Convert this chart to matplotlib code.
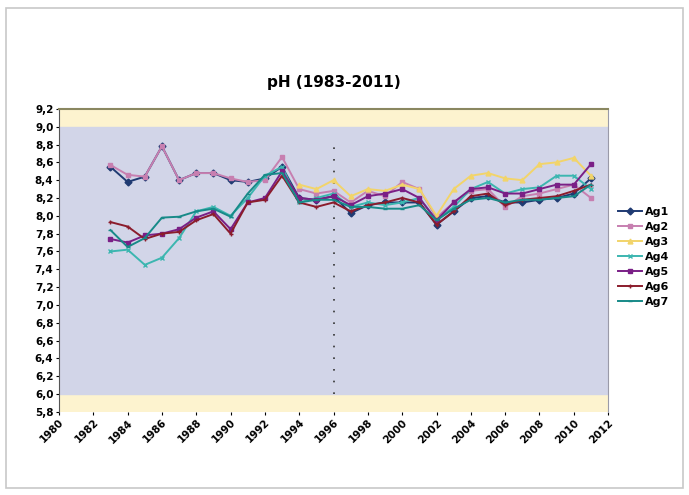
import numpy as np
import matplotlib
matplotlib.use("Agg")
import matplotlib.pyplot as plt
from matplotlib.patches import Rectangle

years = list(range(1983, 2012))
nan = np.nan

ag1 = [8.55, 8.38, 8.44, 8.78, 8.40, 8.48, 8.48, 8.40, 8.38, 8.42, 8.55, 8.20, 8.18, 8.22, 8.03,
       8.12, 8.15, 8.15, 8.15, 7.90, 8.05, 8.20, 8.22, 8.15, 8.15, 8.18, 8.20, 8.25, 8.42]
ag2 = [8.57, 8.46, 8.44, 8.78, 8.40, 8.48, 8.48, 8.42, 8.38, 8.40, 8.66, 8.30, 8.25, 8.28, 8.15,
       8.28, 8.22, 8.38, 8.30, 7.98, 8.15, 8.28, 8.30, 8.10, 8.22, 8.25, 8.30, 8.35, 8.20]
ag3 = [nan, nan, nan, nan, nan, nan, nan, nan, nan, nan, nan, 8.35, 8.30, 8.40, 8.22,
       8.30, 8.28, 8.35, 8.30, 8.00, 8.30, 8.45, 8.48, 8.42, 8.40, 8.58, 8.60, 8.65, 8.45]
ag4 = [7.60, 7.62, 7.45, 7.53, 7.75, 8.05, 8.10, 8.00, 8.20, 8.45, 8.55, 8.15, 8.20, 8.25, 8.10,
       8.15, 8.12, 8.15, 8.20, 7.95, 8.10, 8.30, 8.38, 8.25, 8.30, 8.32, 8.45, 8.45, 8.30]
ag5 = [7.74, 7.70, 7.78, 7.80, 7.85, 7.98, 8.05, 7.85, 8.15, 8.20, 8.50, 8.20, 8.18, 8.22, 8.12,
       8.22, 8.25, 8.30, 8.20, 7.95, 8.15, 8.30, 8.32, 8.25, 8.25, 8.30, 8.35, 8.35, 8.58]
ag6 = [7.93, 7.88, 7.74, 7.80, 7.82, 7.95, 8.02, 7.80, 8.15, 8.18, 8.45, 8.15, 8.10, 8.15, 8.05,
       8.12, 8.15, 8.20, 8.15, 7.90, 8.05, 8.22, 8.25, 8.12, 8.18, 8.20, 8.22, 8.28, 8.35]
ag7 = [7.84, 7.65, 7.75, 7.98, 7.99, 8.05, 8.08, 7.99, 8.25, 8.46, 8.48, 8.15, 8.18, 8.18, 8.10,
       8.10, 8.08, 8.08, 8.12, 7.95, 8.08, 8.18, 8.20, 8.15, 8.18, 8.18, 8.20, 8.22, 8.35]

names = ["Ag1", "Ag2", "Ag3", "Ag4", "Ag5", "Ag6", "Ag7"]
series = [ag1, ag2, ag3, ag4, ag5, ag6, ag7]
colors = ["#1f3a72", "#c77fb0", "#f2d46a", "#3cb6b0", "#7a1f86", "#8b1c2c", "#178a88"]
markers = ["D", "s", "^", "x", "s", "+", "_"]

fig = plt.figure(figsize=(6.89, 4.95), dpi=100)
fig.patches.append(Rectangle((0.008, 0.015), 0.984, 0.968, transform=fig.transFigure,
                             fill=False, edgecolor="#c8c8c8", linewidth=1.2))

ax = fig.add_axes([0.0856, 0.168, 0.797, 0.612])
ax.set_facecolor("#fdf3cf")
ax.axhspan(6.0, 9.0, color="#d2d5e8", zorder=0)

for name, vals, c, m in zip(names, series, colors, markers):
    ax.plot(years, vals, color=c, marker=m, markersize=3.5, linewidth=1.4, label=name, zorder=3)

# reference line at 1996
ax.axvline(1996, color="#333333", linestyle=(0, (1, 6)), linewidth=1.2, ymin=0.06, ymax=0.9, zorder=2)

ax.set_xlim(1980, 2012)
ax.set_ylim(5.8, 9.2)
ax.set_xticks(range(1980, 2013, 2))
ax.set_xticklabels([str(y) for y in range(1980, 2013, 2)], rotation=45, fontsize=7.5,
                   fontweight="bold", ha="right", rotation_mode="anchor")
yt = np.round(np.arange(5.8, 9.21, 0.2), 1)
ax.set_yticks(yt)
ax.set_yticklabels([f"{v:.1f}".replace(".", ",") for v in yt], fontsize=7.5, fontweight="bold")
ax.tick_params(axis="both", length=2, width=0.8, pad=2)

ax.spines["bottom"].set_visible(False)
ax.spines["top"].set_color("#8a8760")
ax.spines["top"].set_linewidth(1.5)
ax.spines["left"].set_color("#555555")
ax.spines["right"].set_color("#9a9aa8")

ax.set_title("pH (1983-2011)", fontsize=11, fontweight="bold", pad=16)

leg = ax.legend(loc="center left", bbox_to_anchor=(1.01, 0.51), frameon=False, fontsize=8,
                handlelength=2.2, handletextpad=0.2, labelspacing=0.45, borderaxespad=0)
for t in leg.get_texts():
    t.set_fontweight("bold")

fig.savefig("out.png", dpi=100)
